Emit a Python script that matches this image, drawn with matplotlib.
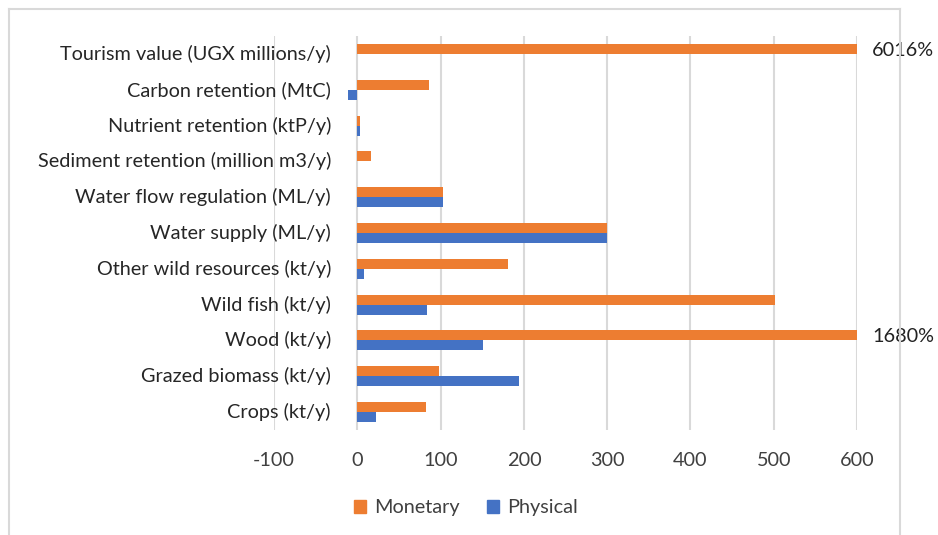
import matplotlib.pyplot as plt
import matplotlib.patches as mpatches
import numpy as np

plt.rcParams['font.family'] = ['Lato', 'DejaVu Sans']

# categories, bottom to top
categories = ['Crops (kt/y)', 'Grazed biomass (kt/y)', 'Wood (kt/y)', 'Wild fish (kt/y)',
              'Other wild resources (kt/y)', 'Water supply (ML/y)', 'Water flow regulation (ML/y)',
              'Sediment retention (million m3/y)', 'Nutrient retention (ktP/y)',
              'Carbon retention (MtC)', 'Tourism value (UGX millions/y)']
monetary = [83, 98, 1680, 502, 181, 300, 103, 17, 3, 86, 6016]
physical = [23, 194, 151, 84, 8, 300, 103, 0, 3, -11, 0]
x_ticks = [-100, 0, 100, 200, 300, 400, 500, 600]
xmin, xmax = -100, 600

orange = '#ED7D31'
blue = '#4472C4'
fs = 14.3

fig = plt.figure(figsize=(9.38, 5.35), dpi=100)
ax = fig.add_axes([274/938, 1 - 430/535, (857-274)/938, (430-36)/535])

y = np.arange(len(categories))
h = 0.28
# clip monetary at axis max (labelled with actual value)
mon_plot = [min(v, xmax) for v in monetary]
ax.barh(y + h/2, mon_plot, height=h, color=orange, zorder=3)
ax.barh(y - h/2, physical, height=h, color=blue, zorder=3)

for i, v in enumerate(monetary):
    if v > xmax:
        ax.annotate(f'{v}%', (xmax, y[i] + h/2), xytext=(11, -1), textcoords='offset points',
                    ha='left', va='center', fontsize=fs, color='#222222', annotation_clip=False)

ax.set_xlim(xmin, xmax)
ax.set_ylim(-0.5, len(categories) - 0.5)
ax.set_xticks(x_ticks)
ax.set_xticklabels([str(t) for t in x_ticks], fontsize=fs, color='#404040')
ax.tick_params(axis='x', length=0, pad=16)
ax.set_yticks([])
ax.grid(axis='x', color='#D9D9D9', linewidth=1.5, zorder=0)
for s in ax.spines.values():
    s.set_visible(False)

for i, lab in enumerate(categories):
    ax.annotate(lab, (0, y[i]), xytext=(-19, 0), textcoords='offset points',
                ha='right', va='center', fontsize=fs, color='#262626')

handles = [mpatches.Patch(color=orange, label='Monetary'),
           mpatches.Patch(color=blue, label='Physical')]
fig.legend(handles=handles, loc='center', bbox_to_anchor=(466/938, 1 - 508/535), ncol=2,
           frameon=False, fontsize=fs, handlelength=0.6, handleheight=0.6,
           handletextpad=0.4, columnspacing=1.4, labelcolor='#404040')

# chart frame
fig.add_artist(plt.Line2D([9/938, 9/938], [0, 1 - 9/535], color='#D9D9D9', lw=1.5))
fig.add_artist(plt.Line2D([900/938, 900/938], [0, 1 - 9/535], color='#D9D9D9', lw=1.5))
fig.add_artist(plt.Line2D([9/938, 900/938], [1 - 9/535, 1 - 9/535], color='#D9D9D9', lw=1.5))

fig.savefig('out.png', dpi=100)
